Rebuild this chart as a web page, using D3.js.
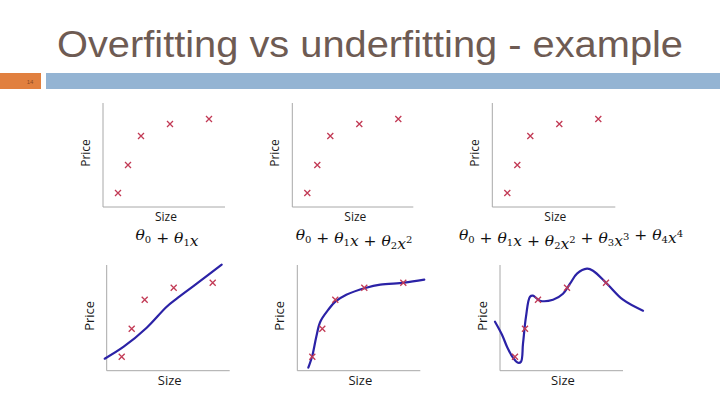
<!DOCTYPE html>
<html>
<head>
<meta charset="utf-8">
<script src="https://cdn.jsdelivr.net/npm/d3@7"></script>
<style>
  body { margin: 0; background: #fff; }
  svg { display: block; }
</style>
</head>
<body>
<div id="chart"></div>
<script>
const width = 720, height = 405;

const title = 'Overfitting vs underfitting - example';
const slideNumber = '14';

// training examples (same in every panel)
const sizes = [15, 25, 38, 67, 106];
const prices = [14, 42, 71, 83, 88];

// hypothesis curves read from the bottom row
const fitLinear = [[-2, 12], [17, 24], [40, 43], [60, 64], [70, 72], [90, 87], [115, 106]];
const fitQuadratic = [[11, 3], [15, 15], [19, 34], [23, 49], [31, 61], [38, 69], [49, 76],
    [69, 83], [83, 86], [107, 88], [127, 91]];
const fitQuartic = [[-5, 49], [2, 36], [7, 24], [13, 13], [18, 8], [21, 9], [23, 27], [26, 54],
    [30, 74], [33, 75], [40, 70], [53, 71], [63, 77], [70, 87], [77, 97], [87, 102],
    [93, 100], [107, 87], [123, 71], [143, 60]];

const formulas = [
    [['θ', '0'], ' + ', ['θ', '1'], 'x'],
    [['θ', '0'], ' + ', ['θ', '1'], 'x', ' + ', ['θ', '2'], 'x', ['^', '2']],
    [['θ', '0'], ' + ', ['θ', '1'], 'x', ' + ', ['θ', '2'], 'x', ['^', '2'], ' + ',
        ['θ', '3'], 'x', ['^', '3'], ' + ', ['θ', '4'], 'x', ['^', '4']]
];

const panels = [
    { x: 103, top: 103, bottom: 207, w: 122, fit: null },
    { x: 292.3, top: 103, bottom: 207, w: 121, fit: null },
    { x: 492.3, top: 103, bottom: 207, w: 123, fit: null },
    { x: 106.7, top: 265, bottom: 370.7, w: 123, fit: fitLinear },
    { x: 297.3, top: 265, bottom: 370.7, w: 123, fit: fitQuadratic },
    { x: 500, top: 265, bottom: 370.7, w: 123, fit: fitQuartic }
];

const svg = d3.select('#chart')
    .append('svg')
    .attr('width', width)
    .attr('height', height);

svg.append('text')
    .attr('x', 57)
    .attr('y', 57)
    .attr('font-family', 'Liberation Sans, Arial, sans-serif')
    .attr('font-size', 36)
    .attr('fill', '#6e5b53')
    .attr('textLength', 626)
    .attr('lengthAdjust', 'spacingAndGlyphs')
    .text(title);

svg.append('rect')
    .attr('x', 0).attr('y', 73)
    .attr('width', 41).attr('height', 16)
    .attr('fill', '#e1803f');

svg.append('text')
    .attr('x', 30).attr('y', 83.5)
    .attr('text-anchor', 'middle')
    .attr('font-family', 'Liberation Sans, Arial, sans-serif')
    .attr('font-size', 6)
    .attr('fill', '#8a4a24')
    .text(slideNumber);

svg.append('rect')
    .attr('x', 46).attr('y', 73)
    .attr('width', width - 46).attr('height', 16)
    .attr('fill', '#94b4d3');

const points = sizes.map((s, i) => ({ size: s, price: prices[i] }));

panels.forEach((p, idx) => {
    const x = d3.scaleLinear().domain([0, 122]).range([p.x, p.x + 122]);
    const y = d3.scaleLinear().domain([0, 104]).range([p.bottom, p.bottom - 104]);
    const g = svg.append('g');

    g.append('path')
        .attr('d', `M${p.x},${p.top}V${p.bottom}H${p.x + p.w}`)
        .attr('fill', 'none')
        .attr('stroke', '#a8a8a8')
        .attr('stroke-width', 1);

    g.append('text')
        .attr('transform', `translate(${p.x - 13},${(p.top + p.bottom) / 2 - 2}) rotate(-90)`)
        .attr('text-anchor', 'middle')
        .attr('font-family', 'Open Sans, DejaVu Sans, sans-serif')
        .attr('font-size', idx < 3 ? 12 : 13)
        .attr('fill', '#1a1a1a')
        .text('Price');

    g.append('text')
        .attr('x', p.x + 63)
        .attr('y', p.bottom + 14)
        .attr('text-anchor', 'middle')
        .attr('font-family', 'Open Sans, DejaVu Sans, sans-serif')
        .attr('font-size', idx < 3 ? 12 : 13)
        .attr('fill', '#1a1a1a')
        .text('Size');

    if (p.fit) {
        const line = d3.line()
            .curve(d3.curveCatmullRom)
            .x(d => x(d[0]))
            .y(d => y(d[1]));
        g.append('path')
            .attr('d', line(p.fit))
            .attr('fill', 'none')
            .attr('stroke', '#2b22a6')
            .attr('stroke-width', 2.2)
            .attr('stroke-linejoin', 'round')
            .attr('stroke-linecap', 'round');
    }

    const r = 3;
    g.selectAll('path.mark')
        .data(points)
        .join('path')
        .attr('class', 'mark')
        .attr('d', d => {
            const cx = x(d.size), cy = y(d.price);
            return `M${cx - r},${cy - r}L${cx + r},${cy + r}M${cx - r},${cy + r}L${cx + r},${cy - r}`;
        })
        .attr('stroke', '#c23a55')
        .attr('stroke-width', 1.3)
        .attr('fill', 'none');
});

// formulas under the top row
const formulaX = [167, 354, 571];
formulas.forEach((f, i) => {
    const t = svg.append('text')
        .attr('x', formulaX[i])
        .attr('y', 240)
        .attr('text-anchor', 'middle')
        .attr('font-family', 'DejaVu Serif, Liberation Serif, serif')
        .attr('font-size', 15.5)
        .attr('fill', '#111');
    f.forEach(part => {
        if (typeof part === 'string') {
            t.append('tspan')
                .attr('font-style', part === 'x' ? 'italic' : 'normal')
                .text(part);
        } else if (part[0] === '^') {
            t.append('tspan').attr('font-size', 10).attr('dy', -6).text(part[1]);
            t.append('tspan').attr('dy', 6).text('');
        } else {
            t.append('tspan').attr('font-style', 'italic').text(part[0]);
            t.append('tspan').attr('font-size', 10).attr('dy', 3).text(part[1]);
            t.append('tspan').attr('dy', -3).text('');
        }
    });
});
</script>
</body>
</html>
